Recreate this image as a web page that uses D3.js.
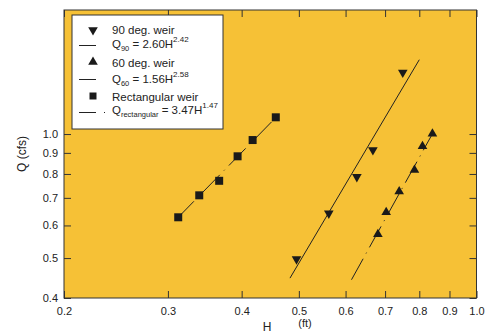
<!DOCTYPE html>
<html><head><meta charset="utf-8">
<script src="https://cdn.jsdelivr.net/npm/d3@7"></script>
<style>
body{margin:0;background:#fff;}
text{font-family:"Liberation Sans",Arial,sans-serif;fill:#222;}
</style></head>
<body>
<svg id="chart" width="487" height="333"></svg>
<script>
// ---- data (H in ft, Q in cfs) ----
const weir90H = [0.4955, 0.562, 0.627, 0.6675, 0.750];
const weir90Q = [0.497, 0.642, 0.787, 0.915, 1.41];
const weir60H = [0.6806, 0.703, 0.7396, 0.785, 0.810, 0.842];
const weir60Q = [0.571, 0.646, 0.725, 0.818, 0.934, 1.002];
const rectH = [0.3123, 0.339, 0.3664, 0.3937, 0.4175, 0.457];
const rectQ = [0.628, 0.710, 0.770, 0.883, 0.967, 1.098];
// fitted power-law lines, endpoints
const fit90H = [0.483, 0.80];
const fit90Q = [0.447, 1.515];
const fit60H = [0.614, 0.839];
const fit60Q = [0.443, 0.992];
const fitRectH = [0.311, 0.458];
const fitRectQ = [0.624, 1.10];
// ticks
const xTicks = [0.2, 0.3, 0.4, 0.5, 0.6, 0.7, 0.8, 0.9, 1.0];
const yTicks = [0.4, 0.5, 0.6, 0.7, 0.8, 0.9, 1.0];

const svg = d3.select("#chart");
const L = 64, R = 476.5, T = 10, B = 298;
const x = d3.scaleLog().domain([0.2, 1.0]).range([L, R]);
const y = d3.scaleLog().domain([0.4, 2.0]).range([B, T]);

svg.append("rect").attr("x", L).attr("y", T).attr("width", R - L).attr("height", B - T)
  .attr("fill", "#F6C136");

const fmt = d3.format(".1f");
const gB = svg.append("g").attr("transform", `translate(0,${B})`)
  .call(d3.axisBottom(x).tickValues(xTicks).tickFormat(fmt).tickSizeInner(-7).tickSizeOuter(0).tickPadding(9));
const gT = svg.append("g").attr("transform", `translate(0,${T})`)
  .call(d3.axisTop(x).tickValues(xTicks).tickFormat("").tickSizeInner(-7).tickSizeOuter(0));
const gL = svg.append("g").attr("transform", `translate(${L},0)`)
  .call(d3.axisLeft(y).tickValues(yTicks).tickFormat(fmt).tickSizeInner(-7).tickSizeOuter(0).tickPadding(6));
const gR = svg.append("g").attr("transform", `translate(${R},0)`)
  .call(d3.axisRight(y).tickValues(yTicks).tickFormat("").tickSizeInner(-7).tickSizeOuter(0));
[gB, gT, gL, gR].forEach(g => {
  g.select(".domain").remove();
  g.selectAll("line").attr("stroke", "#333").attr("stroke-width", 1);
  g.selectAll("text").attr("font-size", 11).attr("fill", "#222")
    .style("font-family", '"Liberation Sans",Arial,sans-serif');
});

svg.append("rect").attr("x", L).attr("y", T).attr("width", R - L).attr("height", B - T)
  .attr("fill", "none").attr("stroke", "#333").attr("stroke-width", 1);

// fit lines
const line = d3.line().x(d => x(d[0])).y(d => y(d[1]));
svg.append("path").datum(d3.zip(fit90H, fit90Q)).attr("d", line)
  .attr("stroke", "#222").attr("stroke-width", 1).attr("fill", "none");
svg.append("path").datum(d3.zip(fit60H, fit60Q)).attr("d", line)
  .attr("stroke", "#222").attr("stroke-width", 1).attr("fill", "none")
  .attr("stroke-dasharray", "24,6,1,6");
svg.append("path").datum(d3.zip(fitRectH, fitRectQ)).attr("d", line)
  .attr("stroke", "#222").attr("stroke-width", 1).attr("fill", "none")
  .attr("stroke-dasharray", "24,6,1,6");

// markers
const tri = d3.symbol().type(d3.symbolTriangle).size(40);
const sq = d3.symbol().type(d3.symbolSquare).size(64);
svg.append("g").selectAll("path").data(d3.zip(weir90H, weir90Q)).join("path")
  .attr("d", tri).attr("fill", "#1a1a1a")
  .attr("transform", d => `translate(${x(d[0])},${y(d[1])}) rotate(180)`);
svg.append("g").selectAll("path").data(d3.zip(weir60H, weir60Q)).join("path")
  .attr("d", tri).attr("fill", "#1a1a1a")
  .attr("transform", d => `translate(${x(d[0])},${y(d[1])})`);
svg.append("g").selectAll("path").data(d3.zip(rectH, rectQ)).join("path")
  .attr("d", sq).attr("fill", "#1a1a1a")
  .attr("transform", d => `translate(${x(d[0])},${y(d[1])})`);

// legend
const lg = svg.append("g");
lg.append("rect").attr("x", 72).attr("y", 15).attr("width", 151).attr("height", 114)
  .attr("fill", "#fff").attr("stroke", "#333").attr("stroke-width", 1);
lg.append("path").attr("d", tri).attr("fill", "#1a1a1a").attr("transform", "translate(93,30) rotate(180)");
lg.append("path").attr("d", tri).attr("fill", "#1a1a1a").attr("transform", "translate(93,62)");
lg.append("path").attr("d", d3.symbol().type(d3.symbolSquare).size(49)).attr("fill", "#1a1a1a").attr("transform", "translate(93,96)");
lg.append("line").attr("x1", 79).attr("x2", 96).attr("y1", 45.5).attr("y2", 45.5).attr("stroke", "#222");
lg.append("line").attr("x1", 79).attr("x2", 96).attr("y1", 79.5).attr("y2", 79.5).attr("stroke", "#222");
lg.append("line").attr("x1", 79).attr("x2", 96).attr("y1", 112.5).attr("y2", 112.5).attr("stroke", "#222");
lg.append("line").attr("x1", 104).attr("x2", 105).attr("y1", 112.5).attr("y2", 112.5).attr("stroke", "#222");

const fs = 11.5;
function plain(t, yy) {
  lg.append("text").attr("x", 112).attr("y", yy).attr("font-size", fs).text(t);
}
function eq(sub, mid, sup, yy) {
  const t = lg.append("text").attr("x", 112).attr("y", yy).attr("font-size", fs);
  t.append("tspan").text("Q");
  t.append("tspan").attr("font-size", 7.5).attr("dy", 3).text(sub);
  t.append("tspan").attr("dy", -3).text(mid);
  t.append("tspan").attr("font-size", 8).attr("dy", -6).text(sup);
}
plain("90 deg. weir", 34);
eq("90", " = 2.60H", "2.42", 47.5);
plain("60 deg. weir", 66.5);
eq("60", "  = 1.56H", "2.58", 82.5);
plain("Rectangular weir", 101);
eq("rectangular", " = 3.47H", "1.47", 114);

// axis titles
svg.append("text").attr("transform", "translate(26,154) rotate(-90)")
  .attr("text-anchor", "middle").attr("font-size", 12).text("Q  (cfs)");
svg.append("text").attr("x", 267).attr("y", 330.5).attr("text-anchor", "middle")
  .attr("font-size", 12).text("H");
svg.append("text").attr("x", 305).attr("y", 327).attr("text-anchor", "middle")
  .attr("font-size", 11).text("(ft)");
</script>
</body></html>
